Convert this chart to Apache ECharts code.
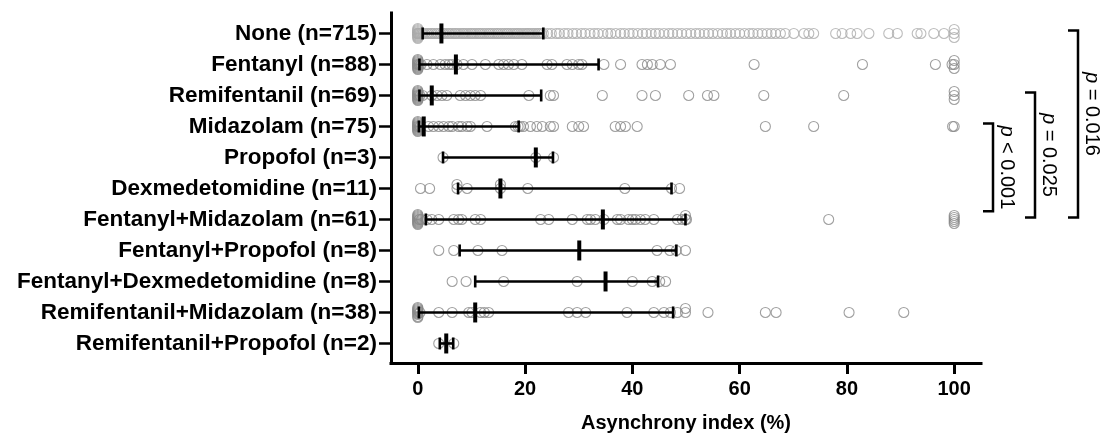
<!DOCTYPE html>
<html>
<head>
<meta charset="utf-8">
<script src="https://cdn.jsdelivr.net/npm/echarts@6/dist/echarts.min.js"></script>
<style>
  html, body { margin: 0; background: #fff; }
  #chart { width: 1109px; height: 434px; }
</style>
</head>
<body>
<div id="chart"></div>
<script>
// groups, top to bottom
const groups = ['None', 'Fentanyl', 'Remifentanil', 'Midazolam', 'Propofol', 'Dexmedetomidine',
  'Fentanyl+Midazolam', 'Fentanyl+Propofol', 'Fentanyl+Dexmedetomidine', 'Remifentanil+Midazolam',
  'Remifentanil+Propofol']
const counts = [715, 88, 69, 75, 3, 11, 61, 8, 8, 38, 2]

// individual asynchrony index values (%)
const vNone = [0, 0, 0, 0, 0, 0, 0, 0, 0, 0, 0, 0, 0, 0, 0.2, 0.4, 0.7, 1.0, 1.3, 1.7, 2.0, 2.4, 2.7, 3.1,
  3.5, 3.8, 4.2, 4.6, 4.9, 5.3, 5.7, 6.0, 6.4, 6.8, 7.1, 7.5, 7.9, 8.3, 8.6, 9.0, 9.4, 9.8, 10.1, 10.5,
  10.9, 11.3, 11.6, 12.0, 12.4, 12.8, 13.2, 13.5, 13.9, 14.3, 14.7, 15.0, 15.4, 15.8, 16.2, 16.6, 16.9,
  17.3, 17.7, 18.1, 18.5, 18.8, 19.2, 19.6, 20.0, 20.4, 20.7, 21.1, 21.5, 21.9, 22.3, 22.6, 23.0, 23.4,
  24.2, 24.9, 25.8, 26.4, 27.3, 28.0, 28.9, 29.6, 30.5, 31.2, 32.1, 32.9, 33.6, 34.5, 35.4, 36.0, 36.9,
  37.8, 38.5, 39.4, 40.1, 41.0, 41.9, 42.6, 43.5, 44.3, 45.0, 45.9, 46.8, 47.5, 48.4, 49.2, 50.1, 50.9,
  51.8, 52.5, 53.4, 54.2, 55.0, 55.9, 56.8, 57.6, 58.3, 59.2, 60.0, 60.9, 61.8, 62.5, 63.4, 64.2, 65.1,
  65.9, 66.7, 67.6, 68.5, 70.1, 72.0, 72.9, 73.8, 77.9, 79.1, 80.7, 81.9, 84.1, 87.8, 89.4, 93.1, 93.8,
  96.2, 98.1, 100, 100, 100]
const vFentanyl = [0, 0, 0, 0, 0, 0, 0, 0, 0, 0, 0, 0, 0.3, 0.6, 1.7, 2.9, 4.2, 5.1, 5.8, 6.4, 7.3, 8.5,
  10.1, 12.6, 15.1, 16.0, 16.9, 17.9, 19.4, 24.1, 25.0, 27.8, 28.8, 30.0, 30.6, 34.7, 37.8, 41.8, 42.8,
  43.7, 45.2, 47.1, 62.7, 82.9, 96.5, 99.6, 100, 100, 100]
const vRemifentanil = [0, 0, 0, 0, 0, 0, 0, 0, 0, 0, 0, 0, 0.4, 0.9, 2.6, 3.6, 4.5, 5.4, 7.9, 8.9, 9.8,
  10.7, 11.7, 20.7, 24.7, 25.3, 34.4, 41.8, 44.3, 50.5, 54.0, 55.2, 64.5, 79.4, 100, 100, 100]
const vMidazolam = [0, 0, 0, 0, 0, 0, 0, 0, 0, 0, 0, 0, 0.4, 2.0, 2.9, 3.9, 4.8, 5.8, 6.4, 7.6, 8.2, 9.2,
  9.8, 12.9, 18.2, 18.7, 19.1, 19.7, 21.0, 22.2, 23.2, 24.7, 25.3, 28.8, 30.0, 30.9, 36.8, 37.8, 38.7,
  40.9, 64.8, 73.8, 99.7, 100]
const vPropofol = [4.7, 22.0, 25.3]
const vDex = [0.5, 2.2, 7.3, 7.3, 9.2, 15.4, 15.4, 20.5, 38.6, 47.3, 48.8]
const vFentMid = [0, 0, 0, 0, 0, 0, 0, 0, 0, 0, 0, 0.3, 0.7, 1.7, 2.6, 3.9, 6.7, 7.6, 8.2, 10.7, 11.7,
  22.9, 24.4, 28.8, 31.6, 32.2, 33.1, 34.7, 37.2, 37.8, 39.3, 40.0, 40.6, 41.5, 42.4, 44.0, 48.4, 49.3,
  49.9, 49.9, 50.1, 76.6, 100, 100, 100, 100, 100]
const vFentProp = [3.9, 6.7, 11.2, 15.7, 44.6, 47.0, 48.2, 49.9]
const vFentDex = [6.4, 9.0, 16.0, 29.7, 40.0, 43.7, 45.1, 46.2]
const vRemiMid = [0, 0, 0, 0, 0, 0, 0, 0, 0, 0, 0.4, 3.9, 6.4, 9.5, 10.1, 11.7, 12.4, 13.2, 28.1, 29.7,
  31.3, 39.0, 44.0, 45.9, 47.1, 48.4, 49.9, 49.9, 54.1, 64.8, 66.8, 80.4, 90.6]
const vRemiProp = [3.9, 6.7]

const values = [vNone, vFentanyl, vRemifentanil, vMidazolam, vPropofol, vDex, vFentMid, vFentProp,
  vFentDex, vRemiMid, vRemiProp]

// median and interquartile range per group
const medians = [4.4, 7.1, 2.6, 1.1, 22.0, 15.4, 34.5, 30.1, 35.0, 10.7, 5.3]
const q1 = [0.9, 0.3, 0.3, 0.2, 4.7, 7.5, 1.5, 7.8, 10.7, 0.2, 4.1]
const q3 = [23.4, 33.7, 23.0, 18.8, 25.2, 47.3, 49.9, 48.2, 44.8, 47.6, 6.6]

const xTicks = [0, 20, 40, 60, 80, 100]

// pairwise comparisons shown as brackets
const comparisons = [
  { from: 0, to: 6, text: ' = 0.016' },
  { from: 2, to: 6, text: ' = 0.025' },
  { from: 3, to: 5.8, text: ' < 0.001' },
]

const font = "'Liberation Sans', Arial, Helvetica, sans-serif"
const xMin = -5, xMax = 105
const yMin = -0.66, yMax = 10.63
const pxPerX = 590 / (xMax - xMin)
const pxPerRow = 350 / (yMax - yMin)

// simple swarm: nudge exact overlaps up/down a few pixels
const nudges = [0, -4, 4, -2, 2, -5, 5, -1, 1, -3, 3]
function swarm (vals) {
  const placed = []
  vals.slice().sort((a, b) => a - b).forEach(v => {
    let best = 0, bestD = -1
    for (const o of nudges) {
      let d = Infinity
      placed.forEach(p => {
        const dd = Math.hypot((p[0] - v) * pxPerX, p[1] - o)
        if (dd < d) d = dd
      })
      if (d >= 1) { best = o; break }
      if (d > bestD) { bestD = d; best = o }
    }
    placed.push([v, best])
  })
  return placed
}

const pointsNone = []
const pointsRest = []
values.forEach((vals, row) => {
  swarm(vals).forEach(([v, o]) => {
    (row === 0 ? pointsNone : pointsRest).push([v, row + o / pxPerRow])
  })
})

const summary = medians.map((m, i) => [i, q1[i], m, q3[i]])

const circleStyle = (c) => ({ color: 'rgba(0,0,0,0)', borderColor: c, borderWidth: 1.1 })

const chart = echarts.init(document.getElementById('chart'))
chart.setOption({
  animation: false,
  grid: { left: 391, right: 128, top: 13, bottom: 71, outerBoundsMode: 'none', containLabel: false },
  xAxis: {
    type: 'value',
    min: xMin,
    max: xMax,
    name: 'Asynchrony index (%)',
    nameLocation: 'middle',
    nameGap: 50,
    nameTextStyle: { color: '#000', fontSize: 20, fontWeight: 'bold', fontFamily: font },
    axisLine: { onZero: false, lineStyle: { color: '#000', width: 3, cap: 'square' } },
    axisTick: { show: true, customValues: xTicks, length: 11, lineStyle: { color: '#000', width: 3 } },
    axisLabel: { customValues: xTicks, margin: 16, color: '#000', fontSize: 20, fontWeight: 'bold', fontFamily: font },
    splitLine: { show: false },
  },
  yAxis: {
    type: 'value',
    inverse: true,
    min: yMin,
    max: yMax,
    axisLine: { show: true, onZero: false, lineStyle: { color: '#000', width: 3, cap: 'square' } },
    axisTick: { show: true, customValues: groups.map((g, i) => i), length: 12, lineStyle: { color: '#000', width: 2.5 } },
    axisLabel: {
      customValues: groups.map((g, i) => i),
      margin: 14,
      color: '#000',
      fontSize: 22.5,
      fontWeight: 'bold',
      fontFamily: font,
      formatter: (val) => {
        const i = Math.round(val)
        return groups[i] + ' (n=' + counts[i] + ')'
      },
    },
    splitLine: { show: false },
  },
  series: [
    {
      type: 'scatter',
      data: pointsNone,
      symbol: 'circle',
      symbolSize: 10,
      itemStyle: circleStyle('#ababab'),
      silent: true,
    },
    {
      type: 'scatter',
      data: pointsRest,
      symbol: 'circle',
      symbolSize: 10,
      itemStyle: circleStyle('#888888'),
      silent: true,
    },
    {
      // median with IQR bars
      type: 'custom',
      data: summary,
      encode: { x: [1, 2, 3], y: 0 },
      silent: true,
      z: 5,
      renderItem: (params, api) => {
        const row = api.value(0)
        const a = api.coord([api.value(1), row])
        const m = api.coord([api.value(2), row])
        const b = api.coord([api.value(3), row])
        const s = { stroke: '#000', lineWidth: 2.6 }
        return {
          type: 'group',
          children: [
            { type: 'line', shape: { x1: a[0], y1: a[1], x2: b[0], y2: b[1] }, style: s },
            { type: 'line', shape: { x1: a[0], y1: a[1] - 6, x2: a[0], y2: a[1] + 6 }, style: s },
            { type: 'line', shape: { x1: b[0], y1: b[1] - 6, x2: b[0], y2: b[1] + 6 }, style: s },
            { type: 'line', shape: { x1: m[0], y1: m[1] - 10, x2: m[0], y2: m[1] + 10 }, style: { stroke: '#000', lineWidth: 4 } },
          ],
        }
      },
    },
    {
      // significance brackets on the right
      type: 'custom',
      data: comparisons.map(c => [0, c.from, c.to]),
      encode: { x: 0, y: [1, 2] },
      silent: true,
      clip: false,
      renderItem: (params, api) => {
        const c = comparisons[params.dataIndex]
        const gap = [97, 54, 12][params.dataIndex]
        const right = api.coord([xMax, 0])[0]
        const x = right + gap
        const y1 = api.coord([xMax, c.from])[1] - 3
        const y2 = api.coord([xMax, c.to])[1] - 2
        return {
          type: 'group',
          children: [
            {
              type: 'polyline',
              shape: { points: [[x - 10, y1], [x, y1], [x, y2], [x - 10, y2]] },
              style: { stroke: '#000', lineWidth: 2.5, fill: null },
            },
            {
              type: 'text',
              x: x + 14,
              y: (y1 + y2) / 2 - (params.dataIndex === 0 ? 10 : 0),
              rotation: -Math.PI / 2,
              style: {
                text: '{i|p}' + c.text,
                rich: { i: { fontStyle: 'italic', fontSize: 20, fontFamily: font, fill: '#000' } },
                fontSize: 20,
                fontFamily: font,
                fill: '#000',
                align: 'center',
                verticalAlign: 'middle',
              },
            },
          ],
        }
      },
    },
  ],
})
</script>
</body>
</html>
